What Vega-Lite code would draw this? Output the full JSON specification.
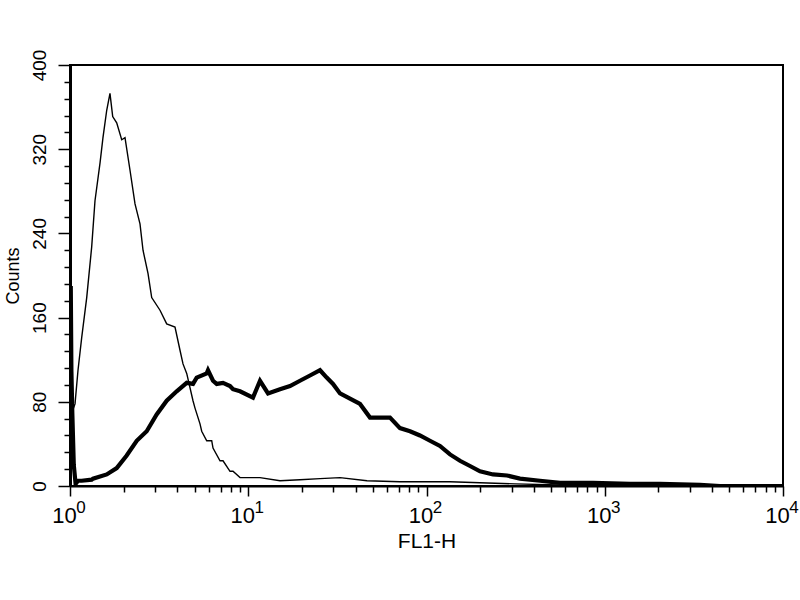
{
  "$schema": "https://vega.github.io/schema/vega-lite/v6.json",
  "autosize": {"type": "none"},
  "width": 713,
  "height": 421,
  "padding": {"left": 70, "top": 65, "right": 17, "bottom": 114},
  "background": "white",
  "datasets": {
    "hist": [
      {"fl": 1.0, "count": 60, "series": "isotype"},
      {"fl": 1.026, "count": 70, "series": "isotype"},
      {"fl": 1.067, "count": 78, "series": "isotype"},
      {"fl": 1.109, "count": 110, "series": "isotype"},
      {"fl": 1.163, "count": 141, "series": "isotype"},
      {"fl": 1.241, "count": 179, "series": "isotype"},
      {"fl": 1.323, "count": 227, "series": "isotype"},
      {"fl": 1.381, "count": 271, "series": "isotype"},
      {"fl": 1.474, "count": 307, "series": "isotype"},
      {"fl": 1.531, "count": 331, "series": "isotype"},
      {"fl": 1.607, "count": 357, "series": "isotype"},
      {"fl": 1.676, "count": 373, "series": "isotype"},
      {"fl": 1.736, "count": 351, "series": "isotype"},
      {"fl": 1.828, "count": 345, "series": "isotype"},
      {"fl": 1.95, "count": 329, "series": "isotype"},
      {"fl": 2.035, "count": 331, "series": "isotype"},
      {"fl": 2.171, "count": 300, "series": "isotype"},
      {"fl": 2.316, "count": 268, "series": "isotype"},
      {"fl": 2.47, "count": 249, "series": "isotype"},
      {"fl": 2.568, "count": 224, "series": "isotype"},
      {"fl": 2.739, "count": 202, "series": "isotype"},
      {"fl": 2.873, "count": 179, "series": "isotype"},
      {"fl": 3.198, "count": 167, "series": "isotype"},
      {"fl": 3.487, "count": 154, "series": "isotype"},
      {"fl": 3.882, "count": 151, "series": "isotype"},
      {"fl": 4.141, "count": 129, "series": "isotype"},
      {"fl": 4.305, "count": 116, "series": "isotype"},
      {"fl": 4.516, "count": 107, "series": "isotype"},
      {"fl": 4.898, "count": 81, "series": "isotype"},
      {"fl": 5.027, "count": 74, "series": "isotype"},
      {"fl": 5.362, "count": 59, "series": "isotype"},
      {"fl": 5.481, "count": 52, "series": "isotype"},
      {"fl": 5.848, "count": 43, "series": "isotype"},
      {"fl": 6.237, "count": 43, "series": "isotype"},
      {"fl": 6.343, "count": 36, "series": "isotype"},
      {"fl": 6.943, "count": 24, "series": "isotype"},
      {"fl": 7.218, "count": 24, "series": "isotype"},
      {"fl": 7.901, "count": 14, "series": "isotype"},
      {"fl": 8.213, "count": 14, "series": "isotype"},
      {"fl": 8.991, "count": 8, "series": "isotype"},
      {"fl": 11.64, "count": 8, "series": "isotype"},
      {"fl": 15.07, "count": 5, "series": "isotype"},
      {"fl": 19.51, "count": 6, "series": "isotype"},
      {"fl": 25.27, "count": 7, "series": "isotype"},
      {"fl": 32.72, "count": 8, "series": "isotype"},
      {"fl": 46.37, "count": 5, "series": "isotype"},
      {"fl": 71.0, "count": 4, "series": "isotype"},
      {"fl": 135.5, "count": 4, "series": "isotype"},
      {"fl": 313.7, "count": 2, "series": "isotype"},
      {"fl": 561, "count": 1, "series": "isotype"},
      {"fl": 940, "count": 0, "series": "isotype"},
      {"fl": 10000, "count": 0, "series": "isotype"},
      {"fl": 1.01, "count": 190, "series": "stained"},
      {"fl": 1.018, "count": 110, "series": "stained"},
      {"fl": 1.03, "count": 70, "series": "stained"},
      {"fl": 1.05, "count": 20, "series": "stained"},
      {"fl": 1.075, "count": 2, "series": "stained"},
      {"fl": 1.109, "count": 5, "series": "stained"},
      {"fl": 1.163, "count": 5, "series": "stained"},
      {"fl": 1.323, "count": 6, "series": "stained"},
      {"fl": 1.346, "count": 7, "series": "stained"},
      {"fl": 1.607, "count": 11, "series": "stained"},
      {"fl": 1.828, "count": 17, "series": "stained"},
      {"fl": 2.08, "count": 29, "series": "stained"},
      {"fl": 2.367, "count": 43, "series": "stained"},
      {"fl": 2.693, "count": 52, "series": "stained"},
      {"fl": 3.064, "count": 68, "series": "stained"},
      {"fl": 3.487, "count": 81, "series": "stained"},
      {"fl": 3.968, "count": 90, "series": "stained"},
      {"fl": 4.516, "count": 98, "series": "stained"},
      {"fl": 4.898, "count": 97, "series": "stained"},
      {"fl": 5.138, "count": 103, "series": "stained"},
      {"fl": 5.848, "count": 107, "series": "stained"},
      {"fl": 5.946, "count": 110, "series": "stained"},
      {"fl": 6.343, "count": 100, "series": "stained"},
      {"fl": 6.653, "count": 97, "series": "stained"},
      {"fl": 7.218, "count": 98, "series": "stained"},
      {"fl": 7.901, "count": 95, "series": "stained"},
      {"fl": 8.213, "count": 92, "series": "stained"},
      {"fl": 8.991, "count": 90, "series": "stained"},
      {"fl": 10.63, "count": 84, "series": "stained"},
      {"fl": 11.64, "count": 100, "series": "stained"},
      {"fl": 12.91, "count": 88, "series": "stained"},
      {"fl": 15.07, "count": 92, "series": "stained"},
      {"fl": 17.15, "count": 95, "series": "stained"},
      {"fl": 19.51, "count": 100, "series": "stained"},
      {"fl": 22.2, "count": 105, "series": "stained"},
      {"fl": 25.27, "count": 110, "series": "stained"},
      {"fl": 27.55, "count": 103, "series": "stained"},
      {"fl": 29.89, "count": 97, "series": "stained"},
      {"fl": 32.72, "count": 88, "series": "stained"},
      {"fl": 37.22, "count": 83, "series": "stained"},
      {"fl": 42.37, "count": 78, "series": "stained"},
      {"fl": 48.19, "count": 65, "series": "stained"},
      {"fl": 50.11, "count": 65, "series": "stained"},
      {"fl": 62.4, "count": 65, "series": "stained"},
      {"fl": 71.0, "count": 55, "series": "stained"},
      {"fl": 80.8, "count": 52, "series": "stained"},
      {"fl": 91.9, "count": 48, "series": "stained"},
      {"fl": 104.6, "count": 43, "series": "stained"},
      {"fl": 119.0, "count": 38, "series": "stained"},
      {"fl": 135.5, "count": 30, "series": "stained"},
      {"fl": 154.1, "count": 24, "series": "stained"},
      {"fl": 175.4, "count": 19, "series": "stained"},
      {"fl": 199.6, "count": 14, "series": "stained"},
      {"fl": 236.1, "count": 11, "series": "stained"},
      {"fl": 282.9, "count": 10, "series": "stained"},
      {"fl": 334.6, "count": 7, "series": "stained"},
      {"fl": 433.2, "count": 5, "series": "stained"},
      {"fl": 561, "count": 3, "series": "stained"},
      {"fl": 859.5, "count": 3, "series": "stained"},
      {"fl": 1386, "count": 2, "series": "stained"},
      {"fl": 2042, "count": 2, "series": "stained"},
      {"fl": 3423, "count": 1, "series": "stained"},
      {"fl": 4433, "count": 0, "series": "stained"},
      {"fl": 10000, "count": 0, "series": "stained"}
    ],
    "exponents": [
      {"fl": 1, "exp": "0"},
      {"fl": 10, "exp": "1"},
      {"fl": 100, "exp": "2"},
      {"fl": 1000, "exp": "3"},
      {"fl": 10000, "exp": "4"}
    ]
  },
  "layer": [
    {
      "data": {"name": "hist"},
      "transform": [{"filter": "datum.series === 'isotype'"}],
      "mark": {"type": "line", "color": "black", "strokeWidth": 1.4, "clip": true},
      "encoding": {
        "x": {
          "field": "fl",
          "type": "quantitative",
          "scale": {"type": "log", "domain": [1, 10000], "nice": false},
          "axis": {
            "title": "FL1-H",
            "titleFontSize": 21,
            "titleFontWeight": "normal",
            "titlePadding": 4,
            "values": [1, 2, 3, 4, 5, 6, 7, 8, 9, 10, 20, 30, 40, 50, 60, 70, 80, 90, 100, 200, 300, 400, 500, 600, 700, 800, 900, 1000, 2000, 3000, 4000, 5000, 6000, 7000, 8000, 9000, 10000],
            "tickCount": 1000,
            "labelExpr": "indexof([1, 10, 100, 1000, 10000], datum.value) >= 0 ? '10' : ''",
            "labelFontSize": 22,
            "labelOffset": -6,
            "labelPadding": 9,
            "labelFlush": false,
            "labelOverlap": false,
            "tickSize": {"condition": {"test": "indexof([1, 10, 100, 1000, 10000], datum.value) >= 0", "value": 10}, "value": 6},
            "domainWidth": 2
          }
        },
        "y": {
          "field": "count",
          "type": "quantitative",
          "scale": {"domain": [0, 400], "nice": false},
          "axis": {
            "title": "Counts",
            "titleFontSize": 18,
            "titleFontWeight": "normal",
            "titlePadding": 8,
            "values": [0, 16, 32, 48, 64, 80, 96, 112, 128, 144, 160, 176, 192, 208, 224, 240, 256, 272, 288, 304, 320, 336, 352, 368, 384, 400],
            "tickCount": 1000,
            "labelExpr": "datum.value % 80 === 0 ? format(datum.value, 'd') : ''",
            "labelFontSize": 19,
            "labelAngle": -90,
            "labelAlign": "center",
            "labelBaseline": "bottom",
            "labelPadding": 9,
            "labelOverlap": false,
            "tickSize": {"condition": {"test": "datum.value % 80 === 0", "value": 12}, "value": 6},
            "domainWidth": 3
          }
        }
      }
    },
    {
      "data": {"name": "hist"},
      "transform": [{"filter": "datum.series === 'stained'"}],
      "mark": {"type": "line", "color": "black", "strokeWidth": 4.2, "clip": true},
      "encoding": {
        "x": {"field": "fl", "type": "quantitative"},
        "y": {"field": "count", "type": "quantitative"}
      }
    },
    {
      "data": {"name": "exponents"},
      "mark": {"type": "text", "fontSize": 17, "dx": 11, "dy": 22, "align": "center", "baseline": "middle", "color": "black", "font": "Liberation Sans"},
      "encoding": {
        "x": {"field": "fl", "type": "quantitative"},
        "y": {"datum": 0},
        "text": {"field": "exp"}
      }
    }
  ],
  "config": {
    "font": "Liberation Sans",
    "view": {"stroke": "black", "strokeWidth": 2},
    "axis": {
      "grid": false,
      "domainColor": "black",
      "tickColor": "black",
      "tickWidth": 1.5,
      "labelColor": "black",
      "titleColor": "black",
      "labelFont": "Liberation Sans",
      "titleFont": "Liberation Sans"
    }
  }
}
